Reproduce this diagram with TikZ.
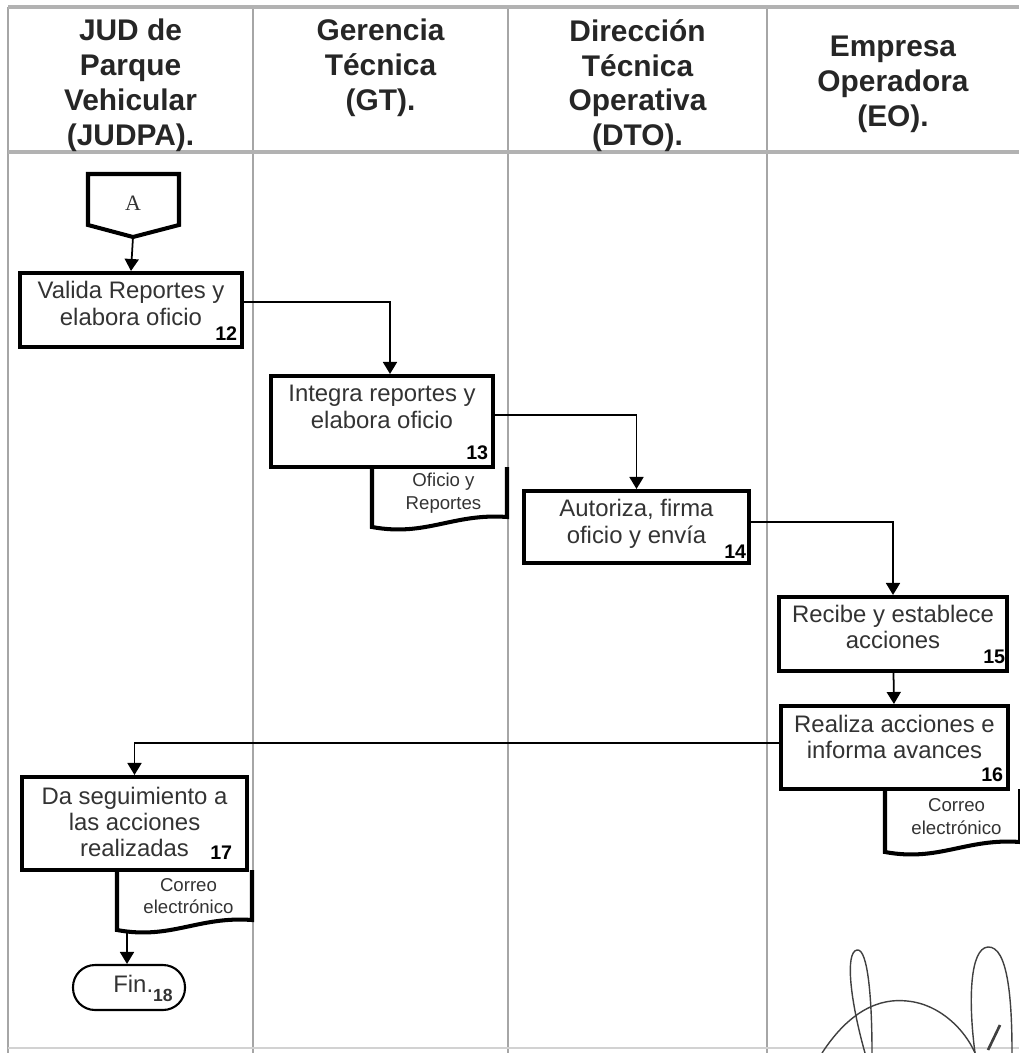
\documentclass[tikz,border=0pt]{standalone}
\usepackage{fontspec}
\setmainfont{Liberation Sans}
\newfontfamily\serifA{Liberation Serif}
\usetikzlibrary{arrows.meta,positioning}

\begin{document}
\begin{tikzpicture}[
        % 1 unidad = 1 px de la hoja escaneada
        x=0.02cm, y=-0.02cm,
        lane/.style={gray!70, line width=0.8pt},
        frame/.style={gray!60, line width=1.8pt},
        head/.style={font=\bfseries\fontsize{17}{19.8}\selectfont, align=center, anchor=north, inner sep=0pt, text=black!85},
        proc/.style={draw, line width=2.3pt, fill=white, align=center, inner sep=0pt, font=\fontsize{13.6}{15}\selectfont, text=black!80},
        num/.style={font=\bfseries\fontsize{11.2}{12}\selectfont, inner xsep=0.13cm, inner ysep=0.17cm, anchor=south east, text=black},
        doctxt/.style={align=center, inner sep=0pt, font=\fontsize{10.6}{12.8}\selectfont, text=black!80},
        docline/.style={line width=2.3pt},
        flow/.style={-{Triangle[length=0.24cm,width=0.28cm]}, line width=1pt},
        sign/.style={line width=0.8pt, black!75}
    ]

        \useasboundingbox (0,0) rectangle (1019,1053);

        % --- 1. Carriles y encabezado ---
        \foreach \lx in {8,253,508,767} {
            \draw[lane] (\lx,7) -- (\lx,1053);
        }
        \draw[frame] (8,7) -- (1019,7);
        \draw[frame] (8,152) -- (1019,152);
        \draw[lane, gray!35] (8,1048) -- (1019,1048);

        \node[head] (hJUD) at (130.5,19) {JUD de\\Parque\\Vehicular\\(JUDPA).};
        \node[head] (hGT)  at (380.5,19) {Gerencia\\Técnica\\(GT).};
        \node[head] (hDTO) at (637.5,19) {Dirección\\Técnica\\Operativa\\(DTO).};
        \node[head] (hEO)  at (893,36)   {Empresa\\Operadora\\(EO).};

        % --- 2. Documentos (detras de las cajas) ---
        \foreach \dL/\dT/\dR/\dB/\dname/\dtext in {
                372/467/507/527/d13/{Oficio y\\Reportes},
                117/870/252/930/d17/{Correo\\electrónico},
                885/789/1020/852/d16/{Correo\\electrónico}} {
            \draw[docline] (\dL,\dT) -- (\dL,\dB)
                .. controls ({\dL+0.4*(\dR-\dL)},\dB+10) and ({\dL+0.6*(\dR-\dL)},\dB-14) .. (\dR,\dB-10)
                -- (\dR,\dT);
            \node[doctxt] (\dname) at ({(\dL+\dR)/2+4},{(\dT+\dB)/2-4}) {\dtext};
        }

        % --- 3. Conector de pagina ---
        \draw[docline] (88,174) -- (179,174) -- (179,225) -- (133,237) -- (88,225) -- cycle;
        \node[font=\serifA\fontsize{12.5}{14}\selectfont, text=black!80] (conA) at (133,203) {A};
        \coordinate (conAtip) at (133,237);

        % --- 4. Actividades ---
        \node[proc, minimum width=4.44cm, minimum height=1.48cm, text depth=0.27cm,
              label={[num]south east:12}] (b12) at (131,310) {Valida Reportes y\\elabora oficio};
        \node[proc, minimum width=4.44cm, minimum height=1.82cm, text depth=0.59cm,
              label={[num]south east:13}] (b13) at (382,421.5) {Integra reportes y\\elabora oficio};
        \node[proc, minimum width=4.5cm, minimum height=1.44cm, text depth=0.23cm,
              label={[num, inner ysep=0.12cm, inner xsep=0.09cm]south east:14}] (b14) at (636.5,527) {Autoriza, firma\\oficio y envía};
        \node[proc, minimum width=4.56cm, minimum height=1.48cm, text depth=0.29cm,
              label={[num, inner xsep=0.07cm]south east:15}] (b15) at (893,634) {Recibe y establece\\acciones};
        \node[proc, minimum width=4.54cm, minimum height=1.66cm, text depth=0.43cm,
              label={[num]south east:16}] (b16) at (894.5,747.5) {Realiza acciones e\\informa avances};
        \node[proc, minimum width=4.5cm, minimum height=1.86cm, text depth=0.07cm,
              label={[num, inner xsep=0.33cm, inner ysep=0.24cm]south east:17}] (b17) at (134.5,823.5) {Da seguimiento a\\las acciones\\realizadas};

        % --- 5. Fin ---
        \node[draw, line width=1.2pt, rounded corners=0.44cm, minimum width=2.24cm, minimum height=0.9cm] (fin) at (129,987.5) {};
        \node[font=\fontsize{13.6}{15}\selectfont, text=black!80] (fintxt) at (143,988)
            {Fin.\raisebox{-0.7ex}{\bfseries\fontsize{10}{10}\selectfont 18}};
        \coordinate (d17foot) at (127,933);

        % --- 6. Flujo ---
        \draw[flow] (conAtip) -- (b12.north);
        \draw[flow] ([yshift=0.16cm]b12.east) -| ([xshift=0.16cm]b13.north);
        \draw[flow] ([yshift=0.13cm]b13.east) -| (b14.north);
        \draw[flow] ([yshift=0.1cm]b14.east) -| (b15.north);
        \draw[flow] (b15) -- (b16);
        \draw[flow] ([yshift=0.09cm]b16.west) -| (b17.north);
        \draw[flow] (d17foot) -- (d17foot |- fin.north);

        % --- 7. Firma ---
        \draw[sign] (865,1053) .. controls (850,1000) and (845,952) .. (857,950) .. controls (868,948) and (872,1000) .. (872,1053);
        \draw[sign] (975,1053) .. controls (968,1000) and (970,948) .. (988,947) .. controls (1008,946) and (1012,1000) .. (1012,1053);
        \draw[sign] (822,1053) .. controls (850,1010) and (880,998) .. (907,1001) .. controls (940,1004) and (965,1030) .. (975,1053);
        \draw[sign, line width=1.5pt] (988,1050) -- (1000,1025);

    \end{tikzpicture}
\end{document}
